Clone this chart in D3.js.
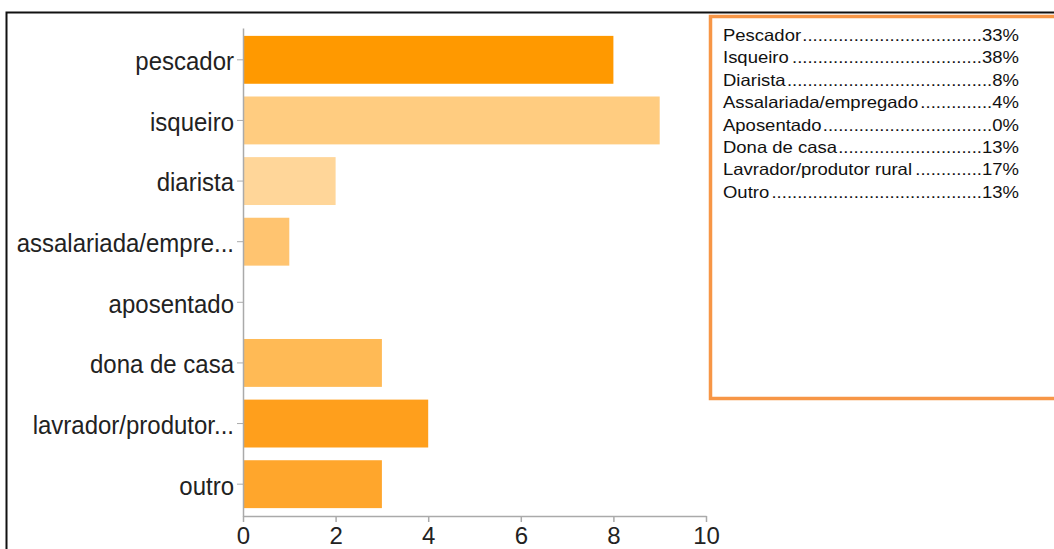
<!DOCTYPE html>
<html>
<head>
<meta charset="utf-8">
<script src="https://cdn.jsdelivr.net/npm/d3@7"></script>
<style>
  html, body { margin: 0; padding: 0; background: #fff; }
  svg { display: block; font-family: "Liberation Sans", Arial, sans-serif; }
</style>
</head>
<body>
<svg id="chart" width="1054" height="549"></svg>
<script>
// bar chart data
const categories = ['pescador', 'isqueiro', 'diarista', 'assalariada/empre...', 'aposentado', 'dona de casa', 'lavrador/produtor...', 'outro'];
const counts = [8, 9, 2, 1, 0, 3, 4, 3];
const barColors = ['#ff9900', '#ffcc80', '#ffd699', '#ffc470', '#ffc470', '#ffba55', '#ff9f1c', '#ffa62c'];
const xTicks = [0, 2, 4, 6, 8, 10];

// side box
const boxLabels = ['Pescador', 'Isqueiro', 'Diarista', 'Assalariada/empregado', 'Aposentado', 'Dona de casa', 'Lavrador/produtor rural', 'Outro'];
const boxPercents = ['33%', '38%', '8%', '4%', '0%', '13%', '17%', '13%'];

const svg = d3.select('#chart');

// outer black frame (top + left edges)
svg.append('path')
    .attr('d', 'M6.5,549 V12.5 H1054')
    .attr('fill', 'none')
    .attr('stroke', '#111')
    .attr('stroke-width', 2);

const x = d3.scaleLinear()
    .domain([0, 10])
    .range([243, 706]);

const y = d3.scaleBand()
    .domain(categories)
    .range([28, 516])
    .paddingInner(0.21)
    .paddingOuter(0.13);

svg.append('defs').append('clipPath')
    .attr('id', 'clip')
    .append('rect')
    .attr('x', 0).attr('y', 0)
    .attr('width', 727).attr('height', 549);

const g = svg.append('g').attr('clip-path', 'url(#clip)');

// bars
g.selectAll('rect.bar')
    .data(categories)
    .join('rect')
    .attr('class', 'bar')
    .attr('x', x(0) + 1)
    .attr('y', d => y(d))
    .attr('width', (d, i) => Math.max(0, x(counts[i]) - x(0) - 1))
    .attr('height', y.bandwidth())
    .attr('fill', (d, i) => barColors[i]);

// y axis
const yAxis = g.append('g')
    .attr('transform', `translate(${x(0)},0)`)
    .call(d3.axisLeft(y).tickSize(6).tickPadding(3).tickSizeOuter(0));
yAxis.select('.domain').attr('stroke', '#aaa').attr('stroke-width', 1.5);
yAxis.selectAll('.tick line').attr('stroke', '#aaa');
yAxis.selectAll('.tick text')
    .attr('fill', '#222')
    .attr('font-size', 24)
    .attr('dy', '0.4em')
    .attr('transform', 'scale(1,1.08)');

// x axis
const xAxis = g.append('g')
    .attr('transform', `translate(0,516)`)
    .call(d3.axisBottom(x).tickValues(xTicks).tickSize(6).tickPadding(5).tickSizeOuter(0));
xAxis.select('.domain').attr('stroke', '#aaa').attr('stroke-width', 1.5);
xAxis.selectAll('.tick line').attr('stroke', '#aaa').attr('stroke-width', 1.5);
xAxis.selectAll('.tick text')
    .attr('fill', '#222')
    .attr('font-size', 24);

// orange side box
svg.append('rect')
    .attr('x', 710.5)
    .attr('y', 16.5)
    .attr('width', 400)
    .attr('height', 382)
    .attr('fill', 'none')
    .attr('stroke', '#f79646')
    .attr('stroke-width', 3.5);

// box lines with leader dots (text is a bit wider than tall in the original)
const rows = svg.append('g').attr('font-size', 18.5).attr('fill', '#111');
const rightEdge = 1019;
boxLabels.forEach((label, i) => {
    const yy = 41 + i * 22.4;
    const row = rows.append('g').attr('transform', `translate(0,${yy}) scale(1,0.88)`);
    const right = row.append('text')
        .attr('x', rightEdge)
        .attr('text-anchor', 'end')
        .text(boxPercents[i]);
    const left = row.append('text')
        .attr('x', 723)
        .text(label);
    const gapStart = 723 + left.node().getComputedTextLength();
    const gapEnd = rightEdge - right.node().getComputedTextLength();
    const dots = row.append('text')
        .attr('x', gapEnd)
        .attr('text-anchor', 'end')
        .text('.');
    const dotW = dots.node().getComputedTextLength();
    const n = Math.max(0, Math.floor((gapEnd - gapStart) / dotW));
    dots.text('.'.repeat(n));
});
</script>
</body>
</html>
